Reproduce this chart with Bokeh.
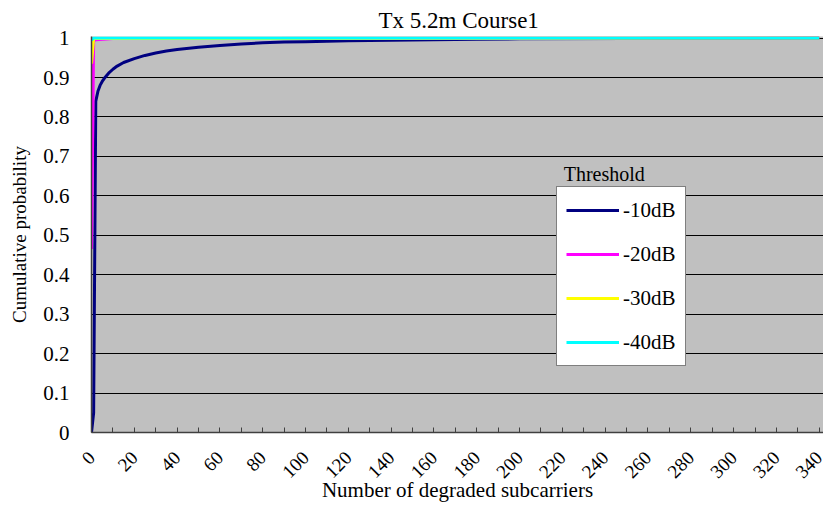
import math
from bokeh.plotting import figure
from bokeh.models import Range1d, FixedTicker, Legend, LegendItem, Label
from bokeh.embed import file_html
from bokeh.resources import INLINE

# ---- data ----
x_10db = [0, 1, 2, 3, 4, 5, 6, 8, 10, 12, 15, 20, 25, 30, 35, 40, 50, 60, 70, 80, 90, 100, 120, 150, 180, 200, 250, 340]
y_10db = [0.0, 0.05, 0.84, 0.865, 0.88, 0.89, 0.898, 0.911, 0.921, 0.929, 0.938, 0.948, 0.956, 0.962, 0.967, 0.971,
          0.977, 0.981, 0.985, 0.988, 0.99, 0.991, 0.993, 0.995, 0.997, 0.998, 0.999, 1.0]
x_20db = [0, 1, 2, 10, 340]
y_20db = [0.465, 0.993, 0.996, 0.999, 1.0]
x_30db = [0, 1, 340]
y_30db = [0.935, 0.999, 1.0]
x_40db = [0, 1, 340]
y_40db = [0.995, 1.0, 1.0]

series_names = ["-10dB", "-20dB", "-30dB", "-40dB"]
series_colors = ["#000080", "#FF00FF", "#FFFF00", "#00FFFF"]
x_ticks = list(range(0, 341, 20))
x_minor = list(range(10, 341, 20))
y_ticks = [round(i * 0.1, 1) for i in range(11)]

title_text = "Tx 5.2m Course1"
x_title = "Number of degraded subcarriers"
y_title = "Cumulative probability"
legend_title = "Threshold"

FONT = "'Liberation Serif', 'Times New Roman', serif"

p = figure(width=823, height=506, output_backend="svg", toolbar_location=None,
           x_range=Range1d(0, 342), y_range=Range1d(0, 1.004),
           min_border_left=91, min_border_right=0, min_border_top=36, min_border_bottom=74)

p.title.text = title_text
p.title.align = "left"
p.title.offset = 287
p.title.standoff = 8
p.title.text_font = FONT
p.title.text_font_size = "23px"
p.title.text_font_style = "normal"
p.title.text_color = "black"

p.background_fill_color = "#C0C0C0"
p.border_fill_color = "white"
p.outline_line_color = None

# axes
p.xaxis.ticker = FixedTicker(ticks=x_ticks, minor_ticks=x_minor)
p.yaxis.ticker = FixedTicker(ticks=y_ticks)
p.yaxis.major_label_overrides = {v: ("0" if v == 0 else ("1" if v == 1.0 else str(v))) for v in y_ticks}
p.xaxis.major_label_orientation = math.pi / 4
p.xaxis.axis_label = x_title
p.yaxis.axis_label = y_title
for ax in (p.xaxis[0], p.yaxis[0]):
    ax.axis_label_text_font = FONT
    ax.axis_label_text_font_style = "normal"
    ax.axis_label_text_color = "black"
    ax.major_label_text_font = FONT
    ax.major_label_text_color = "black"
    ax.axis_line_color = "#404040"
    ax.axis_line_width = 1.5
    ax.major_tick_line_color = "#404040"
    ax.minor_tick_line_color = "#404040"
p.xaxis.axis_label_text_font_size = "21px"
p.yaxis.axis_label_text_font_size = "19px"
p.xaxis.major_label_text_font_size = "19px"
p.yaxis.major_label_text_font_size = "21px"
p.xaxis.major_tick_in = 5
p.xaxis.major_tick_out = 0
p.xaxis.minor_tick_in = 5
p.xaxis.minor_tick_out = 0
p.xaxis.major_label_standoff = 22
p.xaxis.axis_label_standoff = -9
p.yaxis.major_tick_in = 0
p.yaxis.major_tick_out = 0
p.yaxis.minor_tick_line_color = None
p.yaxis.major_label_standoff = 22
p.yaxis.axis_label_standoff = 10

p.xgrid.grid_line_color = None
p.ygrid.grid_line_color = "black"
p.ygrid.grid_line_width = 1
p.ygrid.grid_line_alpha = 1.0

xs = [x_10db, x_20db, x_30db, x_40db]
ys = [y_10db, y_20db, y_30db, y_40db]
items = []
for xv, yv, name, col in zip(xs, ys, series_names, series_colors):
    r = p.line(xv, yv, line_color=col, line_width=3)
    items.append(LegendItem(label=name, renderers=[r]))

legend = Legend(items=items, location=(465, 66), orientation="vertical",
                background_fill_color="white", background_fill_alpha=1.0,
                border_line_color="black", border_line_width=1,
                label_text_font=FONT, label_text_font_size="21px", label_text_color="black",
                glyph_width=53, glyph_height=28, label_height=28, label_width=53,
                label_standoff=4, spacing=16, padding=9, margin=0)
p.add_layout(legend, "center")

# legend heading (outside the legend box, as in the reference)
p.add_layout(Label(x=220.6, y=0.655, text=legend_title, text_font=FONT,
                   text_font_size="20px", text_color="black", text_baseline="middle"))

open("out.html", "w").write(file_html(p, INLINE))
